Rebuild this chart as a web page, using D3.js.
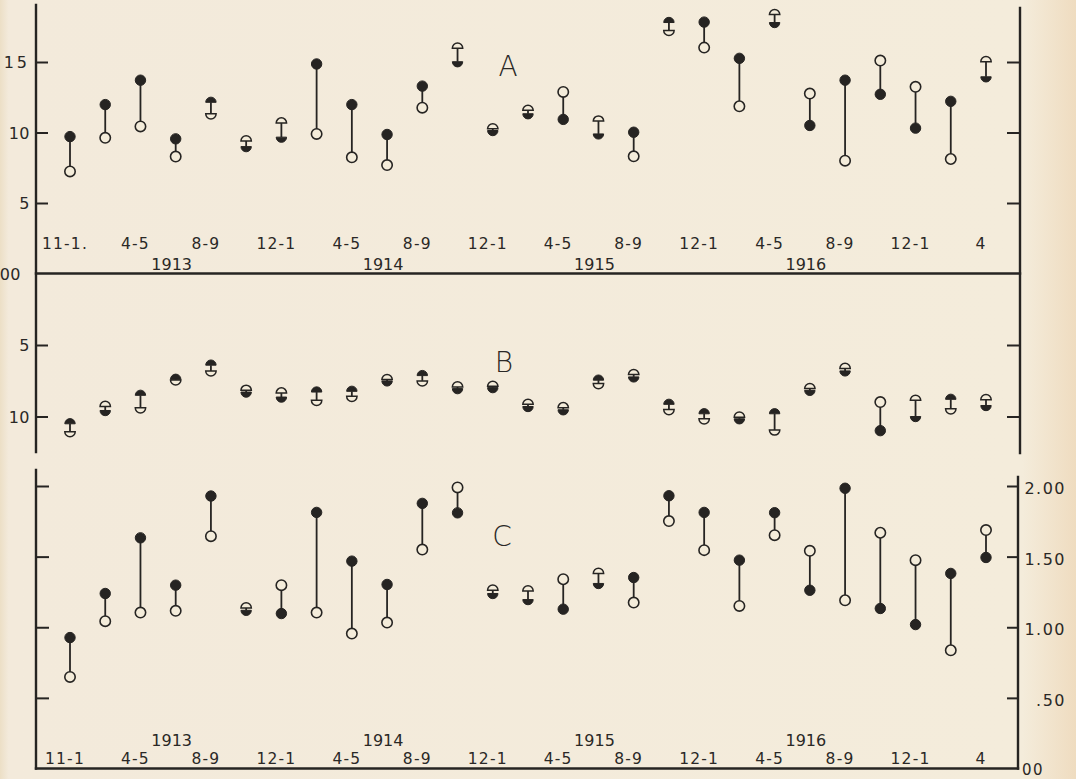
<!DOCTYPE html>
<html><head><meta charset="utf-8">
<script src="https://cdn.jsdelivr.net/npm/d3@7"></script>
<style>
html,body{margin:0;padding:0;background:#f4ecda;}
svg{display:block;}
text{font-family:"DejaVu Sans",sans-serif;fill:#2a2826;}
</style></head><body>
<svg id="c" width="1076" height="779"></svg>
<script>
// ---------- data ----------
const periodCount = 27;
const monthLabelsA = ["11-1.","4-5","8-9","12-1","4-5","8-9","12-1","4-5","8-9","12-1","4-5","8-9","12-1","4"];
const monthLabelsC = ["11-1","4-5","8-9","12-1","4-5","8-9","12-1","4-5","8-9","12-1","4-5","8-9","12-1","4"];
const monthIdx = [0,2,4,6,8,10,12,14,16,18,20,22,24,26];
const years = ["1913","1914","1915","1916"];
const yearIdx = [3,9,15,21];

const aFilled = [9.71,11.98,13.71,9.55,12.14,9.0,9.67,14.86,11.98,9.86,13.29,15.02,10.14,11.33,10.93,9.9,10.02,17.8,17.83,15.26,17.8,10.5,13.71,12.71,10.31,12.21,13.95];
const aOpen   = [7.24,9.62,10.43,8.29,11.33,9.4,10.67,9.9,8.24,7.69,11.76,15.98,10.26,11.57,12.88,10.81,8.31,17.24,16.02,11.86,18.36,12.76,8.0,15.1,13.24,8.12,15.02];

const bFilled = [10.51,9.58,8.52,7.40,6.41,8.29,8.64,8.29,8.24,7.51,7.14,8.05,7.98,9.3,9.53,7.46,7.23,9.15,9.81,10.16,9.81,8.17,6.81,10.99,10.0,8.8,9.23];
const bOpen   = [11.06,9.3,9.39,7.44,6.81,8.17,8.36,8.87,8.59,7.42,7.51,7.93,7.89,9.15,9.39,7.7,7.07,9.51,10.16,10.05,10.94,8.05,6.64,8.99,8.87,9.46,8.83];

const cFilled = [0.927,1.239,1.633,1.298,1.929,1.12,1.097,1.813,1.468,1.303,1.877,1.81,1.239,1.196,1.128,1.31,1.352,1.931,1.813,1.475,1.811,1.262,1.984,1.133,1.019,1.381,1.494];
const cOpen   = [0.648,1.043,1.104,1.116,1.645,1.137,1.298,1.104,0.955,1.033,1.55,1.99,1.262,1.257,1.34,1.381,1.175,1.752,1.546,1.151,1.652,1.541,1.191,1.669,1.475,0.837,1.688];

const aTicks = [0,5,10,15];
const aTickText = ["00","5","10","15"];
const bTicks = [5,10];
const bTickText = ["5","10"];
const cTicks = [0.5,1,1.5,2];
const cLabelVals = [0,0.5,1,1.5,2];
const cLabelText = ["00",".50","1.00","1.50","2.00"];

// ---------- drawing ----------
const INK = "#262422", BG = "#f4ecda";
const svg = d3.select("#c");

const defs = svg.append("defs");
const grad = defs.append("linearGradient").attr("id","bgg").attr("x1","0").attr("x2","1");
[[0,"#ecdfc6"],[0.008,"#f3eadb"],[0.95,"#f4ecdb"],[1,"#efdcc0"]].forEach(s=>grad.append("stop").attr("offset",s[0]).attr("stop-color",s[1]));
svg.append("rect").attr("width",1076).attr("height",779).attr("fill","url(#bgg)");

const x = d3.scaleLinear().domain([0, periodCount-1]).range([70, 986]);
const yA = d3.scaleLinear().domain([0,15]).range([273.5, 62]);
const yB = d3.scaleLinear().domain([0,10]).range([273.5, 416.5]);
const yC = d3.scaleLinear().domain([0,2]).range([768.5, 486]);

const LX = 36, RX_AB = 1020, RX_C = 1018;

function frameLine(x1,y1,x2,y2,w){
  svg.append("line").attr("x1",x1).attr("y1",y1).attr("x2",x2).attr("y2",y2)
    .attr("stroke",INK).attr("stroke-width",w||2.4).attr("stroke-linecap","square");
}
frameLine(LX,5,LX,452);
frameLine(RX_AB,8,RX_AB,453);
frameLine(LX,273.5,RX_AB,273.5);
frameLine(LX,470,LX,768.5);
frameLine(RX_C,477,RX_C,768.5);
frameLine(LX,768.5,RX_C,768.5);

function ticks(axisFn, scale, vals, size, tx){
  const g = svg.append("g").attr("transform",`translate(${tx},0)`)
    .call(axisFn(scale).tickValues(vals).tickSize(size).tickFormat(""));
  g.select(".domain").remove();
  g.selectAll(".tick line").attr("stroke",INK).attr("stroke-width",2);
}
ticks(d3.axisRight, yA, [5,10,15], 12, LX);
ticks(d3.axisLeft, yA, [5,10,15], 13, RX_AB);
ticks(d3.axisRight, yB, bTicks, 12, LX);
ticks(d3.axisLeft, yB, bTicks, 13, RX_AB);
ticks(d3.axisRight, yC, cTicks, 13, LX);
ticks(d3.axisLeft, yC, cTicks, 11, RX_C);

// tick labels
svg.append("g").selectAll("text").data(aTicks).join("text")
  .attr("x", d => d===0 ? 21 : 30).attr("y", d => yA(d)+6)
  .attr("text-anchor","end").attr("font-size",16).attr("letter-spacing",d=>d===15?3:0.5)
  .text((d,i)=>aTickText[i]);
svg.append("g").selectAll("text").data(bTicks).join("text")
  .attr("x",30).attr("y", d => yB(d)+6)
  .attr("text-anchor","end").attr("font-size",16).attr("letter-spacing",0.5)
  .text((d,i)=>bTickText[i]);
svg.append("g").selectAll("text").data(cLabelVals).join("text")
  .attr("x", d => d===0 ? 1022 : 1066).attr("y", d => d===0 ? 775 : yC(d)+8)
  .attr("text-anchor", d => d===0 ? "start" : "end").attr("font-size", d => d===0 ? 15 : 16).attr("letter-spacing",1.5)
  .text((d,i)=>cLabelText[i]);

// period labels
function periodLabels(labels, yBase){
  svg.append("g").selectAll("text").data(monthIdx).join("text")
    .attr("x", d => x(d)-5).attr("y", yBase).attr("text-anchor","middle")
    .attr("font-size",15.5).attr("letter-spacing",1.2)
    .text((d,i)=>labels[i]);
}
function yearLabels(yBase){
  svg.append("g").selectAll("text").data(yearIdx).join("text")
    .attr("x", d => x(d)-4).attr("y", yBase).attr("text-anchor","middle")
    .attr("font-size",16).text((d,i)=>years[i]);
}
periodLabels(monthLabelsA, 249);
yearLabels(270);
periodLabels(monthLabelsC, 764);
yearLabels(746);

// panel letters
[["A",508,76],["B",504,372],["C",502,546]].forEach(p=>{
  svg.append("text").attr("x",p[1]).attr("y",p[2]).attr("text-anchor","middle")
    .attr("font-size",28).attr("font-weight",300).attr("fill","#333").text(p[0]);
});

// pairs
const R = 5.2, HALF_T = 17;
function drawPairs(scale, filled, open){
  const data = filled.map((f,i)=>({i, yf: scale(f), yo: scale(open[i])}));
  const g = svg.append("g");
  const pg = g.selectAll("g").data(data).join("g");
  pg.each(function(d){
    const s = d3.select(this);
    const cx = x(d.i);
    const dy = Math.abs(d.yf - d.yo);
    s.append("line").attr("x1",cx).attr("x2",cx).attr("y1",d.yf).attr("y2",d.yo)
      .attr("stroke",INK).attr("stroke-width",1.8);
    if (dy >= HALF_T){
      s.append("circle").attr("cx",cx).attr("cy",d.yo).attr("r",R)
        .attr("fill",BG).attr("stroke",INK).attr("stroke-width",1.6);
      s.append("circle").attr("cx",cx).attr("cy",d.yf).attr("r",R)
        .attr("fill",INK).attr("stroke",INK).attr("stroke-width",1);
    } else {
      const filledTop = d.yf <= d.yo;
      const yu = Math.min(d.yf,d.yo), yl = Math.max(d.yf,d.yo);
      const top = `M${cx-R},${yu} A${R},${R} 0 0 1 ${cx+R},${yu} Z`;
      const bot = `M${cx-R},${yl} A${R},${R} 0 0 0 ${cx+R},${yl} Z`;
      const openPath = filledTop ? bot : top;
      const fillPath = filledTop ? top : bot;
      s.append("path").attr("d",openPath).attr("fill",BG).attr("stroke",INK).attr("stroke-width",1.5);
      s.append("path").attr("d",fillPath).attr("fill",INK).attr("stroke",INK).attr("stroke-width",1);
    }
  });
}
drawPairs(yA, aFilled, aOpen);
drawPairs(yB, bFilled, bOpen);
drawPairs(yC, cFilled, cOpen);
</script>
</body></html>
